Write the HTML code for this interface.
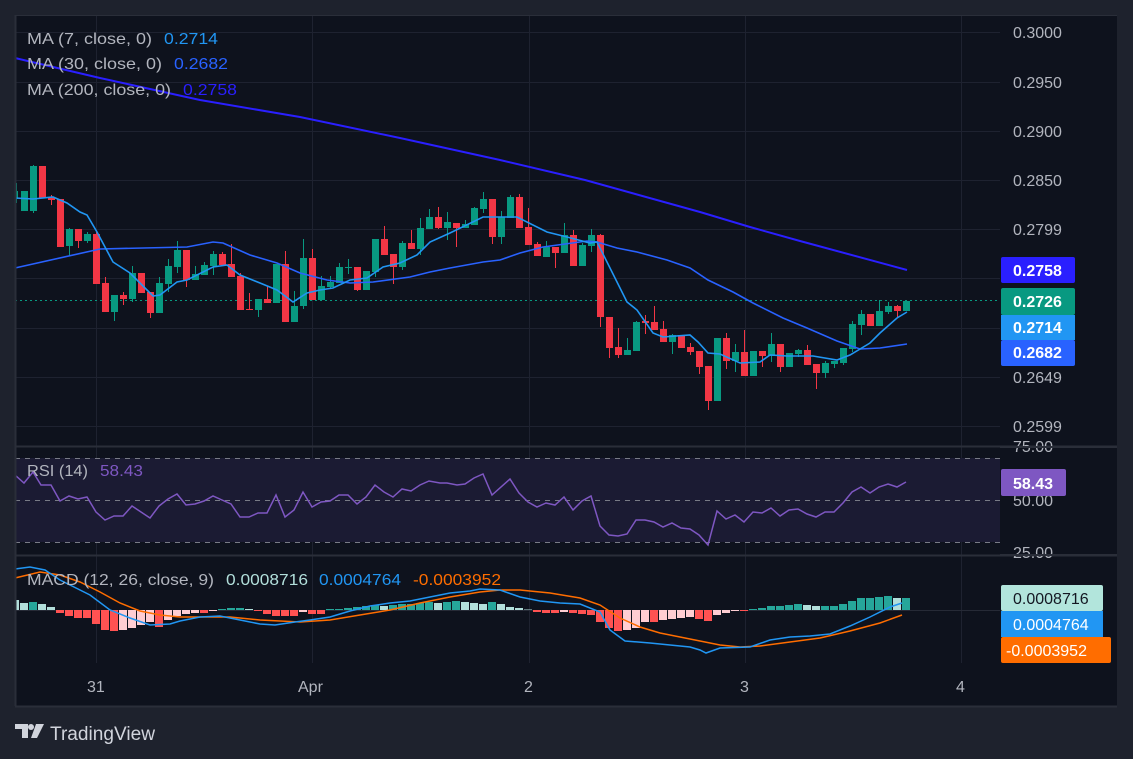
<!DOCTYPE html>
<html><head><meta charset="utf-8"><style>
html,body{margin:0;padding:0;background:#1e222d;}
body{width:1133px;height:759px;overflow:hidden;position:relative;font-family:"Liberation Sans",sans-serif;}
svg{position:absolute;left:0;top:0;}
</style></head><body>
<svg id="s" width="1133" height="759" xmlns="http://www.w3.org/2000/svg" font-family="Liberation Sans, sans-serif">
<rect x="0" y="0" width="1133" height="759" fill="#1e222d"/>
<rect x="15" y="15" width="1102" height="691" fill="#0e121d"/>
<g id="grid" stroke="#1e2230" stroke-width="1"></g>
<rect x="15" y="458" width="985" height="84" fill="#1b1b33"/>
<line x1="15" y1="446.5" x2="1117" y2="446.5" stroke="#2a2e39" stroke-width="2"/>
<line x1="15" y1="555.5" x2="1117" y2="555.5" stroke="#2a2e39" stroke-width="2"/>
<g stroke="#787b86" stroke-dasharray="5,5" stroke-width="1">
<line x1="15" y1="458.5" x2="1000" y2="458.5"/><line x1="15" y1="500.5" x2="1000" y2="500.5"/><line x1="15" y1="542.5" x2="1000" y2="542.5"/>
</g>
<line x1="15" y1="610.5" x2="1000" y2="610.5" stroke="#262a36"/>
<line x1="15" y1="300.5" x2="1000" y2="300.5" stroke="#089981" stroke-dasharray="2,3"/>
<g id="hist"></g>
<g id="candles"></g>
<polyline fill="none" stroke="#2a1fff" stroke-width="2" points="15,58 100,78 200,100 300,117 400,138 500,160 585,180 700,212 750,227 800,241 907,270"/>
<polyline fill="none" stroke="#2962ff" stroke-width="1.6" points="15,268 100,249 187,247 213,242 223,243 250,255 277,263 300,273 327,280 350,283 373,282 410,277 430,272 450,268 483,262 500,260 520,253 543,247 587,241 597,242 617,248 637,252 667,260 690,268 708,280 733,292 753,303 783,318 807,328 837,341 860,349 880,348 907,344"/>
<polyline fill="none" stroke="#2196f3" stroke-width="1.6" points="15,198 33,199 53,197 67,203 80,212 87,215 97,232 113,262 130,273 147,290 153,296 160,295 177,282 187,280 213,267 227,265 240,275 260,283 277,290 293,302 307,293 320,290 333,288 350,280 367,278 383,267 400,263 417,255 430,242 450,233 483,217 517,217 547,232 567,237 590,243 597,242 627,302 637,310 653,333 663,337 690,335 698,342 708,353 720,354 740,363 760,362 770,355 787,356 813,356 837,360 850,355 870,343 880,333 897,318 907,312"/>
<polyline fill="none" stroke="#7e57c2" stroke-width="1.5" points="15,475 24,483 33,472 41,485 51,485 60,501 69,496 78,499 87,497 96,512 105,520 114,516 123,516 132,506 141,512 150,518 159,506 168,499 177,494 186,505 195,504 204,501 213,496 222,500 231,504 240,517 249,517 258,513 267,513 276,495 285,517 294,510 303,492 312,507 321,502 330,501 339,495 348,495 357,504 366,497 375,485 384,492 393,497 402,489 411,491 420,485 429,481 440,483 447,483 457,485 465,484 474,478 483,474 492,495 510,479 519,493 528,502 537,507 546,503 555,505 564,497 573,510 582,501 591,496 600,526 609,535 618,536 627,534 636,520 645,520 654,522 663,527 672,523 681,528 690,529 699,535 708,545 717,511 726,519 735,515 744,522 753,512 762,513 771,508 780,516 789,510 798,509 807,514 816,517 825,512 834,512 843,503 852,492 861,487 870,493 879,487 888,484 897,487 906,482"/>
<polyline fill="none" stroke="#ff6d00" stroke-width="1.5" points="15,578 40,572 60,575 80,582 100,592 120,603 140,611 160,615 180,617 200,617 230,617 260,620 300,622 330,620 360,615 390,610 420,603 450,597 480,592 500,590 520,590 550,593 580,598 600,605 620,618 640,627 660,633 680,637 700,641 720,645 740,647 760,646 790,642 820,638 850,631 880,623 902,615"/>
<polyline fill="none" stroke="#2196f3" stroke-width="1.5" points="15,569 30,567 45,570 60,580 90,595 110,610 130,618 150,625 170,624 180,621 200,617 220,616 240,620 260,624 275,625 295,622 310,620 330,617 350,611 370,606 390,603 410,601 430,597 450,593 470,591 480,589 500,590 520,597 540,601 560,603 580,604 600,612 610,630 625,641 650,643 670,645 690,647 700,650 706,653 720,648 750,647 770,640 790,637 810,636 830,634 850,626 870,617 890,607 902,603"/>
<rect x="0" y="0" width="15" height="759" fill="#1e222d"/>
<rect x="1117" y="0" width="16" height="759" fill="#1e222d"/>
<rect x="0" y="706" width="1133" height="53" fill="#1e222d"/>
<line x1="15" y1="706.5" x2="1117" y2="706.5" stroke="#2a2e39" stroke-width="2"/>
<line x1="15.5" y1="15" x2="15.5" y2="706" stroke="#2a2e39" stroke-width="2"/>
<line x1="15" y1="15.5" x2="1117" y2="15.5" stroke="#2a2e39" stroke-width="1"/>
<g font-size="16" fill="#b2b5be">
<text x="27" y="44" textLength="125" lengthAdjust="spacingAndGlyphs">MA (7, close, 0)</text><text x="164" y="44" fill="#2196f3" textLength="54" lengthAdjust="spacingAndGlyphs">0.2714</text>
<text x="27" y="69" textLength="135" lengthAdjust="spacingAndGlyphs">MA (30, close, 0)</text><text x="174" y="69" fill="#2962ff" textLength="54" lengthAdjust="spacingAndGlyphs">0.2682</text>
<text x="27" y="95" textLength="144" lengthAdjust="spacingAndGlyphs">MA (200, close, 0)</text><text x="183" y="95" fill="#2a1fff" textLength="54" lengthAdjust="spacingAndGlyphs">0.2758</text>
<text x="27" y="476" textLength="61" lengthAdjust="spacingAndGlyphs">RSI (14)</text><text x="100" y="476" fill="#7e57c2" textLength="43" lengthAdjust="spacingAndGlyphs">58.43</text>
<text x="27" y="585" textLength="187" lengthAdjust="spacingAndGlyphs">MACD (12, 26, close, 9)</text><text x="226" y="585" fill="#b2dfdb" textLength="82" lengthAdjust="spacingAndGlyphs">0.0008716</text><text x="319" y="585" fill="#2196f3" textLength="82" lengthAdjust="spacingAndGlyphs">0.0004764</text><text x="413" y="585" fill="#ff6d00" textLength="88" lengthAdjust="spacingAndGlyphs">-0.0003952</text>
</g>
<g font-size="16" fill="#b2b5be">
<text x="1013" y="38">0.3000</text><text x="1013" y="88">0.2950</text><text x="1013" y="137">0.2900</text><text x="1013" y="186">0.2850</text><text x="1013" y="235">0.2799</text><text x="1013" y="383">0.2649</text><text x="1013" y="432">0.2599</text>
<text x="1013" y="452">75.00</text><text x="1013" y="506">50.00</text><text x="1013" y="558">25.00</text>
<text x="87" y="692">31</text><text x="298" y="692">Apr</text><text x="524" y="692">2</text><text x="740" y="692">3</text><text x="956" y="692">4</text>
</g>
<rect x="1000" y="446" width="117" height="2" fill="#2a2e39"/>
<rect x="1000" y="554" width="117" height="2" fill="#2a2e39"/>
<rect x="1001" y="257" width="74" height="26" rx="2" fill="#2a1fff"/>
<rect x="1001" y="288" width="74" height="27" rx="2" fill="#089981"/>
<rect x="1001" y="315" width="74" height="25" fill="#2196f3"/>
<rect x="1001" y="340" width="74" height="26" rx="2" fill="#2962ff"/>
<rect x="1001" y="469" width="65" height="27" rx="2" fill="#7e57c2"/>
<rect x="1001" y="585" width="102" height="26" rx="2" fill="#b2e5dc"/>
<rect x="1001" y="611" width="102" height="26" fill="#2196f3"/>
<rect x="1001" y="637" width="110" height="26" rx="2" fill="#ff6d00"/>
<g font-size="16" fill="#ffffff" font-weight="bold">
<text x="1013" y="276">0.2758</text><text x="1013" y="307">0.2726</text><text x="1013" y="333">0.2714</text><text x="1013" y="358">0.2682</text>
<text x="1013" y="489">58.43</text>
<text x="1013" y="604" fill="#131722" font-weight="normal">0.0008716</text><text x="1013" y="630" font-weight="normal">0.0004764</text><text x="1006" y="656" font-weight="normal">-0.0003952</text>
</g>
<g fill="#d1d4dc">
<path d="M15,724 h13 v14 h-6 v-9 h-7z"/><circle cx="31" cy="727" r="3"/><path d="M36,724 h8 l-7,14 h-6z"/>
<text x="50" y="740" font-size="19" textLength="105" lengthAdjust="spacingAndGlyphs">TradingView</text>
</g>
</svg>
<script>
var NS="http://www.w3.org/2000/svg";
function el(p,t,a){var e=document.createElementNS(NS,t);for(var k in a)e.setAttribute(k,a[k]);p.appendChild(e);return e;}
var g=document.getElementById('grid');
[32,82,131,180,229,278,328,377,426].forEach(function(y){el(g,'line',{x1:15,x2:1000,y1:y+.5,y2:y+.5});});
[96,312,529,745,961].forEach(function(x){el(g,'line',{x1:x+.5,x2:x+.5,y1:15,y2:663});});
var C=[[1,191,211,191,211],[1,166,211,165,213],[0,166,198,166,198],[0,197,200,195,205],[0,199,247,199,247],[1,229,246,228,256],[0,229,241,229,248],[1,234,241,232,243],[0,234,284,231,284],[0,283,312,277,312],[1,295,312,295,321],[0,295,299,292,305],[1,273,299,266,302],[0,273,293,273,293],[0,292,313,292,318],[1,283,313,277,313],[1,266,284,259,292],[1,250,267,241,273],[0,250,280,250,287],[1,274,280,266,280],[1,265,275,262,275],[1,254,266,251,275],[0,254,265,252,265],[0,264,277,244,277],[0,276,310,273,310],[0,309,310,293,310],[1,299,310,299,317],[0,299,303,286,303],[1,264,303,264,303],[0,264,322,251,322],[1,306,322,291,322],[1,258,306,239,309],[0,258,300,249,300],[1,286,300,276,300],[1,282,287,276,289],[1,267,283,263,283],[1,267,268,259,274],[0,267,290,267,291],[1,271,290,271,290],[1,239,272,239,277],[0,239,255,226,255],[0,254,267,254,284],[1,243,267,241,270],[0,243,249,230,249],[1,228,249,218,255],[1,217,229,209,229],[0,217,228,207,229],[1,222,228,212,240],
[0,223,228,223,247],[1,224,228,220,228],[1,208,225,207,225],[1,199,209,192,213],[0,199,237,199,244],[1,217,237,211,244],[1,197,218,195,218],[0,197,228,194,228],[0,227,245,208,245],[0,244,256,242,256],[1,247,257,241,257],[0,247,253,247,268],[1,235,253,223,253],[0,235,266,230,266],[1,245,266,243,266],[1,235,246,229,252],[0,235,317,234,327],[0,317,348,317,358],[0,347,355,328,358],[1,350,355,338,355],[1,322,351,321,351],[0,321,323,315,334],[0,322,330,306,330],[0,329,342,321,342],[1,335,342,334,354],[0,335,348,335,348],[0,347,352,343,355],[0,351,367,351,374],[0,366,401,366,410],[1,338,401,338,401],[0,338,361,333,369],[1,352,361,344,372],[0,352,376,330,376],[1,351,376,351,376],[0,351,356,351,367],[1,344,356,333,362],[0,344,367,344,372],[1,353,367,353,367],[1,350,354,349,357],[0,350,365,345,365],[0,364,373,364,389],[1,363,373,361,378],[1,361,364,361,368],[1,348,363,348,365],[1,324,349,321,352],[1,314,325,310,335],[0,314,326,314,326],[1,311,326,300,326],[1,306,312,302,314],[0,306,311,305,317],[1,301,311,301,311]];
var cg=document.getElementById('candles');
el(cg,'rect',{x:15,y:191,width:3,height:8,fill:'#089981'});el(cg,'line',{x1:16.5,x2:16.5,y1:183,y2:203,stroke:'#089981'});
C.forEach(function(c,k){var x=21+9*k,col=c[0]?'#089981':'#f23645';
el(cg,'line',{x1:x+3.5,x2:x+3.5,y1:c[3],y2:c[4],stroke:col,'stroke-width':1});
el(cg,'rect',{x:x,y:c[1],width:7,height:Math.max(1,c[2]-c[1]),fill:col});});
var H=[7,8,6,3,-3,-6,-8,-8,-14,-20,-21,-20,-18,-15,-12,-17,-10,-6,-4,-3,-3,-1,1,2,2,1,-1,-4,-6,-6,-6,-2,-4,-4,1,1,2,3,4,5,4,5,6,6,7,8,7,8,9,8,7,6,8,6,3,2,0,-2,-3,-3,-2,-3,-4,-5,-12,-18,-21,-20,-18,-12,-12,-10,-9,-8,-7,-9,-11,-5,-3,-1,-1,1,2,4,4,5,6,5,4,4,4,6,9,12,12,13,14,12,12];
var hg=document.getElementById('hist');var prev=10;
el(hg,'rect',{x:15,y:600,width:4,height:10,fill:'#b2dfdb'});
H.forEach(function(h,k){var x=21+9*k,col;
if(h>=0)col=(h>=prev)?'#26a69a':'#b2dfdb';else col=(h<=prev)?'#ff5252':'#ffcdd2';prev=h;
if(h==0)h=0.5;
el(hg,'rect',{x:x-1,y:h>0?610-h:610,width:8,height:Math.abs(h),fill:col});});
</script>
</body></html>
